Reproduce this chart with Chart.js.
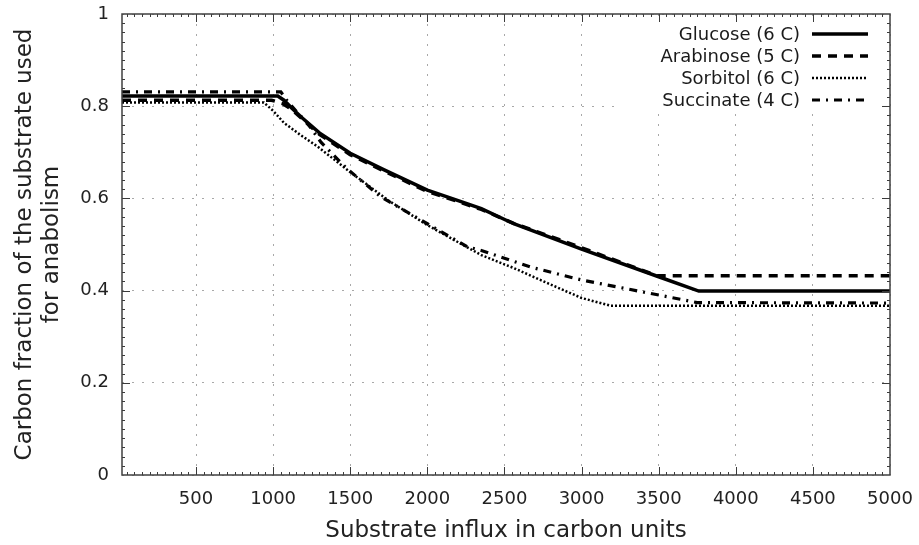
<!DOCTYPE html>
<html>
<head>
<meta charset="utf-8">
<script src="https://cdn.jsdelivr.net/npm/chart.js@4/dist/chart.umd.min.js"></script>
<style>
  html, body { margin: 0; padding: 0; background: #fff; }
  canvas { display: block; }
</style>
</head>
<body>
<canvas id="grafico" width="919" height="545"></canvas>
<script>
// nombres de las series (leyenda)
const nombres = ['Glucose (6 C)', 'Arabinose (5 C)', 'Sorbitol (6 C)', 'Succinate (4 C)'];

// valores
const glucosaX = [20, 1030, 1070, 1120, 1180, 1300, 1500, 1720, 2000, 2200, 2350, 2560, 3000, 3500, 3760, 5000];
const glucosaY = [0.822, 0.822, 0.813, 0.796, 0.777, 0.742, 0.698, 0.662, 0.618, 0.595, 0.578, 0.545, 0.490, 0.430, 0.399, 0.399];

const arabinosaX = [20, 990, 1060, 1120, 1180, 1300, 1500, 1720, 2000, 2200, 2350, 2560, 3000, 3490, 5000];
const arabinosaY = [0.813, 0.813, 0.806, 0.793, 0.775, 0.739, 0.695, 0.659, 0.615, 0.593, 0.576, 0.546, 0.493, 0.432, 0.432];

const sorbitolX = [20, 940, 1000, 1070, 1180, 1290, 1500, 1750, 2000, 2350, 2560, 2780, 3000, 3190, 5000];
const sorbitolY = [0.808, 0.808, 0.790, 0.764, 0.737, 0.712, 0.657, 0.595, 0.542, 0.477, 0.449, 0.416, 0.384, 0.367, 0.367];

const succinatoX = [20, 1050, 1090, 1150, 1220, 1310, 1480, 1700, 2000, 2260, 2350, 2670, 3000, 3430, 3750, 5000];
const succinatoY = [0.831, 0.831, 0.812, 0.789, 0.764, 0.722, 0.664, 0.603, 0.545, 0.495, 0.487, 0.451, 0.423, 0.395, 0.374, 0.373];

// marcas de los ejes
const ticksX = [500, 1000, 1500, 2000, 2500, 3000, 3500, 4000, 4500, 5000];
const ticksY = [0, 0.2, 0.4, 0.6, 0.8, 1];
const pasoMenorX = 50;
const pasoMenorY = 0.02;

const FUENTE = 'DejaVu Sans';
// area de trazado buscada (px)
const AREA = { left: 122, top: 14, right: 890, bottom: 475 };

const puntos = (xs, ys) => xs.map((x, i) => ({ x: x, y: ys[i] }));

const estilos = [
	{ ancho: 3.5, dash: [] },
	{ ancho: 3.5, dash: [9, 7] },
	{ ancho: 2.5, dash: [2, 2] },
	{ ancho: 3.2, dash: [8, 6, 2, 6] }
];

const series = [
	puntos(glucosaX, glucosaY),
	puntos(arabinosaX, arabinosaY),
	puntos(sorbitolX, sorbitolY),
	puntos(succinatoX, succinatoY)
];

Chart.defaults.font.family = FUENTE;

// leyenda dentro del area, con fondo blanco sobre la grilla
const leyenda = {
	id: 'leyenda',
	beforeDatasetsDraw(chart) {
		const { ctx, chartArea: a } = chart;
		ctx.save();
		ctx.fillStyle = '#fff';
		ctx.fillRect(a.right - 268, a.top + 2, 253, 94);
		ctx.font = '18px "' + FUENTE + '"';
		ctx.fillStyle = '#1a1a1a';
		ctx.textAlign = 'right';
		ctx.textBaseline = 'middle';
		nombres.forEach((nombre, i) => {
			const yy = a.top + 20 + i * 22;
			ctx.fillText(nombre, a.right - 90, yy + 1);
			ctx.strokeStyle = '#000';
			ctx.lineWidth = estilos[i].ancho;
			ctx.setLineDash(estilos[i].dash);
			ctx.beginPath();
			ctx.moveTo(a.right - 78, yy);
			ctx.lineTo(a.right - 22, yy);
			ctx.stroke();
		});
		ctx.restore();
	}
};

// marco y marcas hacia adentro en los cuatro lados
const marco = {
	id: 'marco',
	afterDraw(chart) {
		const { ctx, chartArea: a, scales } = chart;
		const sx = scales.x;
		const sy = scales.y;
		ctx.save();
		ctx.strokeStyle = '#3a3a3a';
		ctx.lineWidth = 1;
		ctx.beginPath();
		for (let v = 0; v <= sx.max; v += pasoMenorX) {
			if (v <= sx.min || v >= sx.max) continue;
			const p = Math.round(sx.getPixelForValue(v)) + 0.5;
			const largo = ticksX.includes(v) ? 8 : 3;
			ctx.moveTo(p, a.bottom);
			ctx.lineTo(p, a.bottom - largo);
			ctx.moveTo(p, a.top);
			ctx.lineTo(p, a.top + largo);
		}
		for (let k = 1; k < 50; k++) {
			const v = k * pasoMenorY;
			const p = Math.round(sy.getPixelForValue(v)) + 0.5;
			const largo = k % 10 === 0 ? 8 : 3;
			ctx.moveTo(a.left, p);
			ctx.lineTo(a.left + largo, p);
			ctx.moveTo(a.right, p);
			ctx.lineTo(a.right - largo, p);
		}
		ctx.stroke();
		ctx.lineWidth = 1.5;
		ctx.strokeStyle = '#404040';
		ctx.strokeRect(a.left, a.top, a.right - a.left, a.bottom - a.top);
		ctx.restore();
	}
};

const ctx = document.getElementById('grafico').getContext('2d');

const grafico = new Chart(ctx, {
	type: 'scatter',
	data: {
		datasets: series.map((datos, i) => ({
			label: nombres[i],
			data: datos,
			showLine: true,
			borderColor: '#000',
			backgroundColor: '#000',
			borderWidth: estilos[i].ancho,
			borderDash: estilos[i].dash,
			pointRadius: 0,
			pointHoverRadius: 0,
			tension: 0,
			fill: false
		}))
	},
	options: {
		responsive: false,
		animation: false,
		devicePixelRatio: 1,
		layout: { padding: { top: AREA.top, right: 919 - AREA.right, left: 0, bottom: 0 } },
		plugins: {
			legend: { display: false },
			tooltip: { enabled: false }
		},
		scales: {
			x: {
				type: 'linear',
				min: 20,
				max: 5000,
				afterBuildTicks: (s) => {
					s.ticks = ticksX.map((v) => ({ value: v }));
				},
				afterFit: (s) => {
					// sin espacio extra por las etiquetas de los extremos
					s.height = 545 - AREA.bottom;
					s.paddingLeft = 0;
					s.paddingRight = 0;
				},
				grid: { color: '#a8a8a8', lineWidth: 1, drawTicks: false },
				border: { display: false, dash: [2, 8] },
				ticks: {
					font: { family: FUENTE, size: 18 },
					color: '#222',
					padding: 14,
					maxRotation: 0,
					autoSkip: false,
					callback: (v) => String(v)
				},
				title: {
					display: true,
					text: 'Substrate influx in carbon units',
					font: { family: FUENTE, size: 23 },
					color: '#222',
					padding: { top: 0, bottom: 0 }
				}
			},
			y: {
				type: 'linear',
				min: 0,
				max: 1,
				afterBuildTicks: (s) => {
					s.ticks = ticksY.map((v) => ({ value: v }));
				},
				afterFit: (s) => {
					s.width = AREA.left;
					s.paddingTop = 0;
					s.paddingBottom = 0;
				},
				grid: { color: '#a8a8a8', lineWidth: 1, drawTicks: false },
				border: { display: false, dash: [2, 8] },
				ticks: {
					font: { family: FUENTE, size: 18 },
					color: '#222',
					padding: 13,
					autoSkip: false,
					callback: (v) => String(v)
				},
				title: {
					display: true,
					text: ['Carbon fraction of the substrate used', 'for anabolism'],
					font: { family: FUENTE, size: 23, lineHeight: 1.2 },
					color: '#222',
					padding: { top: 11, bottom: 0 }
				}
			}
		}
	},
	plugins: [leyenda, marco]
});
</script>
</body>
</html>
